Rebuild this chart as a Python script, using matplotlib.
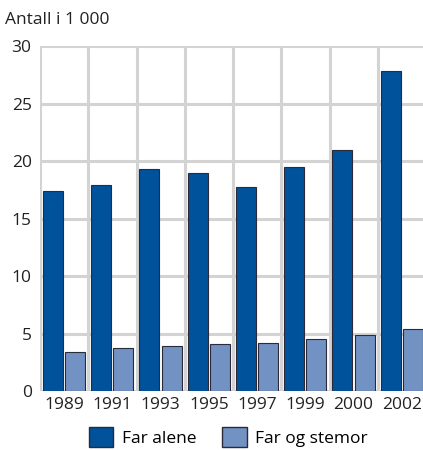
import matplotlib
matplotlib.use("Agg")
import matplotlib.pyplot as plt
from matplotlib.patches import Patch
import numpy as np

years = ["1989", "1991", "1993", "1995", "1997", "1999", "2000", "2002"]
far_alene = [17.4, 17.9, 19.3, 19.0, 17.7, 19.5, 21.0, 27.8]
far_og_stemor = [3.4, 3.7, 3.9, 4.1, 4.2, 4.5, 4.9, 5.4]

DARK = "#00529b"
LIGHT = "#7292c3"
GRID = "#d3d3d3"

plt.rcParams["font.family"] = ["Open Sans", "DejaVu Sans"]

fig = plt.figure(figsize=(4.23, 4.5), dpi=100)
W, H = 423, 450
ax = fig.add_axes([40 / W, 1 - 391 / H, 386 / W, 345 / H])

x = np.arange(len(years))
bw = 0.415
ax.bar(x + 0.06, far_alene, width=bw, align="edge", color=DARK,
       edgecolor="#2a2a3a", linewidth=0.8, zorder=3)
ax.bar(x + 0.06 + bw + 0.045, far_og_stemor, width=bw, align="edge", color=LIGHT,
       edgecolor="#2a2a3a", linewidth=0.8, zorder=3)

ax.set_xlim(0, len(years))
ax.set_ylim(0, 30)
ax.set_yticks(range(0, 31, 5))
ax.set_xticks(x + 0.5)
ax.set_xticklabels(years)
ax.set_xticks(range(0, len(years) + 1), minor=True)
ax.grid(False)
ax.grid(True, axis="y", which="major", color=GRID, lw=2.2, zorder=0)
ax.grid(True, axis="x", which="minor", color=GRID, lw=2.2, zorder=0)
ax.tick_params(which="both", length=0, labelsize=12.5, colors="#222222")
ax.tick_params(axis="x", pad=4)
ax.tick_params(axis="y", pad=6)
for s in ax.spines.values():
    s.set_visible(False)

fig.text(5 / W, 1 - 20 / H, "Antall i 1 000", fontsize=12.5, color="#222222", va="center")

handles = [Patch(facecolor=DARK, edgecolor="#2a2a3a", label="Far alene"),
           Patch(facecolor=LIGHT, edgecolor="#2a2a3a", label="Far og stemor")]
fig.legend(handles=handles, loc="center", bbox_to_anchor=(0.54, 1 - 437 / H), ncol=2,
           frameon=False, fontsize=12.5, handlelength=1.4, handleheight=1.4,
           columnspacing=1.5, handletextpad=0.5)

fig.savefig("out.png", dpi=100)
